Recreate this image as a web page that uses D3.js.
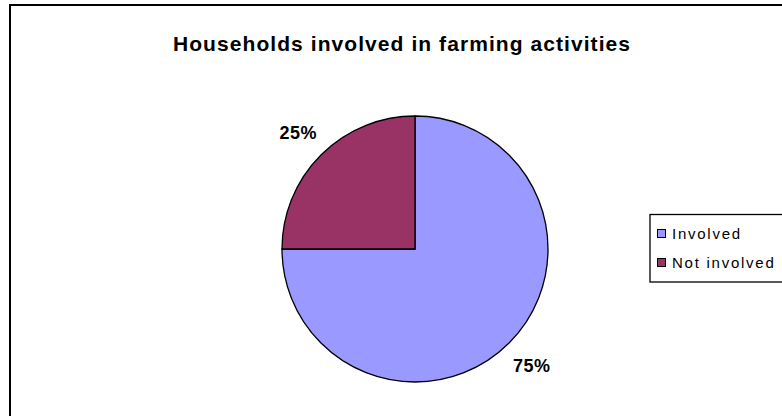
<!DOCTYPE html>
<html>
<head>
<meta charset="utf-8">
<script src="https://cdn.jsdelivr.net/npm/d3@7"></script>
<style>
  html, body { margin: 0; padding: 0; background: #fff; }
  svg { display: block; }
</style>
</head>
<body>
<svg id="chart" width="782" height="416"></svg>
<script>
// Household involvement in farming
const categories = ["Involved", "Not involved"];
const values = [75, 25];
const colors = ["#9999FF", "#993366"];
const title = "Households involved in farming activities";

const svg = d3.select("#chart");
const W = 782, H = 416;
const FONT = "Liberation Sans, Arial, sans-serif";

// chart frame (runs past the right and bottom edges)
svg.append("rect")
  .attr("x", 10).attr("y", 5)
  .attr("width", W + 20).attr("height", H + 20)
  .attr("fill", "#fff")
  .attr("stroke", "#000").attr("stroke-width", 2);

svg.append("text")
  .attr("x", 401.5).attr("y", 51)
  .attr("text-anchor", "middle")
  .attr("font-family", FONT)
  .attr("font-weight", "bold")
  .attr("font-size", 21)
  .attr("textLength", 457)
  .attr("lengthAdjust", "spacing")
  .text(title);

const cx = 415, cy = 249, r = 133;
const color = d3.scaleOrdinal().domain(categories).range(colors);

const pie = d3.pie().sort(null).value(d => d.value).startAngle(0).endAngle(2 * Math.PI);
const data = categories.map((c, i) => ({ name: c, value: values[i] }));
const arcs = pie(data);
const total = d3.sum(values);

const arc = d3.arc().innerRadius(0).outerRadius(r);
const labelArc = d3.arc().innerRadius(165).outerRadius(165);

const g = svg.append("g").attr("transform", `translate(${cx},${cy})`);
g.selectAll("path")
  .data(arcs)
  .join("path")
  .attr("d", arc)
  .attr("fill", d => color(d.data.name))
  .attr("stroke", "#000")
  .attr("stroke-width", 1.3);

g.selectAll("text.pct")
  .data(arcs)
  .join("text")
  .attr("class", "pct")
  .attr("transform", d => `translate(${labelArc.centroid(d)})`)
  .attr("text-anchor", "middle")
  .attr("dy", "0.36em")
  .attr("font-family", FONT)
  .attr("font-weight", "bold")
  .attr("font-size", 18)
  .attr("letter-spacing", 0.5)
  .text(d => Math.round(d.data.value / total * 100) + "%");

// legend
const lg = svg.append("g");
lg.append("rect")
  .attr("x", 650).attr("y", 214.5)
  .attr("width", 200).attr("height", 67.5)
  .attr("fill", "#fff")
  .attr("stroke", "#000").attr("stroke-width", 1.3);

const items = lg.selectAll("g.item")
  .data(categories)
  .join("g")
  .attr("class", "item")
  .attr("transform", (d, i) => `translate(657,${229 + i * 29})`);

items.append("rect")
  .attr("x", 0.5).attr("y", 0.5)
  .attr("width", 8).attr("height", 8)
  .attr("fill", d => color(d))
  .attr("stroke", "#000").attr("stroke-width", 1);

items.append("text")
  .attr("x", 15).attr("y", 10)
  .attr("font-family", FONT)
  .attr("font-size", 15)
  .attr("letter-spacing", 1.75)
  .text(d => d);
</script>
</body>
</html>
